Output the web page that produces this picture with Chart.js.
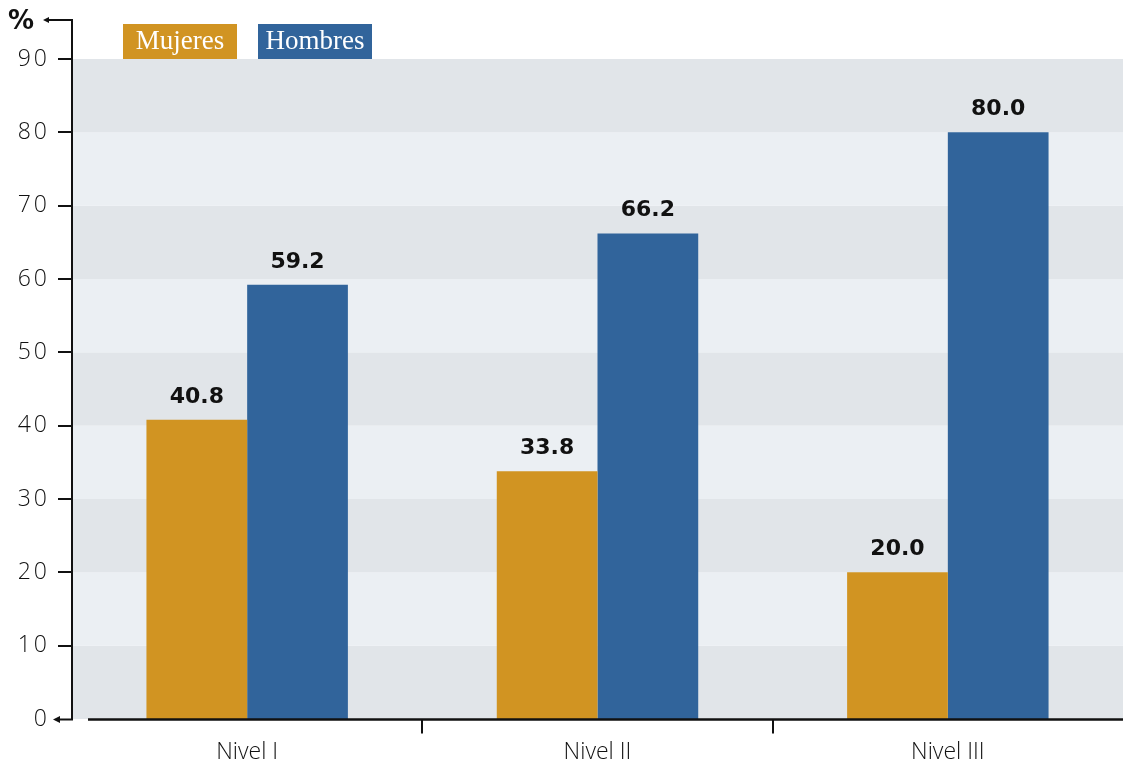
<!DOCTYPE html>
<html>
<head>
<meta charset="utf-8">
<script src="https://cdn.jsdelivr.net/npm/chart.js@4/dist/chart.umd.min.js"></script>
<style>
html,body{margin:0;padding:0;background:#fff;}
canvas{display:block;}
</style>
</head>
<body>
<canvas id="c" width="1123" height="763"></canvas>
<script>
// ---- data ----
const categories = ['Nivel I', 'Nivel II', 'Nivel III'];
const mujeres = [40.8, 33.8, 20.0];
const hombres = [59.2, 66.2, 80.0];
const seriesNames = ['Mujeres', 'Hombres'];
const yMin = 0;
const yMax = 90;
const yStep = 10;
const unitLabel = '%';

// ---- styles ----
const COL_M = '#d19422';
const COL_H = '#31649b';
const BAND_DARK = '#e1e5e9';
const BAND_LIGHT = '#ebeff3';
const AXIS = '#111111';

class SpacedLinear extends Chart.LinearScale {
  drawLabels(area) {
    const ctx = this.ctx;
    ctx.save();
    ctx.letterSpacing = '3px';
    super.drawLabels(area);
    ctx.restore();
  }
}
SpacedLinear.id = 'spacedLinear';
SpacedLinear.defaults = Chart.LinearScale.defaults;
Chart.register(SpacedLinear);

const decor = {
  id: 'decor',
  beforeDraw(chart) {
    const ctx = chart.ctx, a = chart.chartArea, y = chart.scales.y;
    ctx.save();
    ctx.fillStyle = '#fff';
    ctx.fillRect(0, 0, chart.width, chart.height);
    let i = 0;
    for (let v = yMin; v < yMax; v += yStep, i++) {
      const y0 = y.getPixelForValue(v), y1 = y.getPixelForValue(v + yStep);
      ctx.fillStyle = i % 2 === 0 ? BAND_DARK : BAND_LIGHT;
      ctx.fillRect(a.left, y1, a.right - a.left, y0 - y1);
    }
    ctx.restore();
  },
  afterDraw(chart) {
    const ctx = chart.ctx, a = chart.chartArea, ys = chart.scales.y, xs = chart.scales.x;
    ctx.save();
    ctx.strokeStyle = AXIS;
    ctx.fillStyle = AXIS;
    ctx.lineWidth = 2;
    const ax = a.left;
    const topY = 20;
    // vertical axis
    ctx.beginPath();
    ctx.moveTo(ax, topY - 1);
    ctx.lineTo(ax, a.bottom + 1);
    ctx.stroke();
    // top tick with arrow
    ctx.beginPath();
    ctx.moveTo(ax + 1, topY);
    ctx.lineTo(48, topY);
    ctx.stroke();
    ctx.beginPath();
    ctx.moveTo(43, topY);
    ctx.lineTo(49, topY - 3);
    ctx.lineTo(49, topY + 3);
    ctx.closePath();
    ctx.fill();
    // y ticks
    for (let v = yMin + yStep; v <= yMax; v += yStep) {
      const py = Math.round(ys.getPixelForValue(v));
      ctx.beginPath();
      ctx.moveTo(ax - 14, py);
      ctx.lineTo(ax, py);
      ctx.stroke();
    }
    // zero arrow
    const zy = Math.round(ys.getPixelForValue(yMin)) + 0.5;
    ctx.beginPath();
    ctx.moveTo(ax + 1, zy);
    ctx.lineTo(57, zy);
    ctx.stroke();
    ctx.beginPath();
    ctx.moveTo(53, zy);
    ctx.lineTo(60, zy - 3.5);
    ctx.lineTo(60, zy + 3.5);
    ctx.closePath();
    ctx.fill();
    // x axis line
    ctx.lineWidth = 2.5;
    ctx.beginPath();
    ctx.moveTo(ax + 16, zy);
    ctx.lineTo(a.right, zy);
    ctx.stroke();
    // category boundary ticks
    ctx.lineWidth = 2;
    for (let i = 0; i < categories.length - 1; i++) {
      const bx = Math.round((xs.getPixelForValue(i) + xs.getPixelForValue(i + 1)) / 2);
      ctx.beginPath();
      ctx.moveTo(bx, zy);
      ctx.lineTo(bx, zy + 14);
      ctx.stroke();
    }
    // value labels
    ctx.font = 'bold 22px "DejaVu Sans", sans-serif';
    ctx.textAlign = 'center';
    ctx.textBaseline = 'middle';
    ctx.fillStyle = '#111';
    chart.data.datasets.forEach((ds, di) => {
      const meta = chart.getDatasetMeta(di);
      meta.data.forEach((bar, j) => {
        ctx.fillText(ds.data[j].toFixed(1), bar.x, bar.y - 23);
      });
    });
    // unit label
    ctx.font = 'bold 26px "DejaVu Sans", sans-serif';
    ctx.fillText(unitLabel, 21, 22);
    // legend boxes
    const boxes = [
      {x: 123, c: COL_M, t: seriesNames[0]},
      {x: 258, c: COL_H, t: seriesNames[1]}
    ];
    ctx.font = '27px "Liberation Serif", serif';
    boxes.forEach(b => {
      ctx.fillStyle = b.c;
      ctx.fillRect(b.x, 24, 114, 35);
      ctx.fillStyle = '#fff';
      ctx.fillText(b.t, b.x + 57, 42);
    });
    ctx.restore();
  }
};

new Chart(document.getElementById('c'), {
  type: 'bar',
  data: {
    labels: categories,
    datasets: [
      {label: seriesNames[0], data: mujeres, backgroundColor: COL_M, borderWidth: 0},
      {label: seriesNames[1], data: hombres, backgroundColor: COL_H, borderWidth: 0}
    ]
  },
  options: {
    responsive: false,
    animation: false,
    devicePixelRatio: 1,
    layout: {padding: {top: 59, left: 0, right: 0, bottom: 0}},
    datasets: {bar: {categoryPercentage: 0.575, barPercentage: 1.0}},
    plugins: {legend: {display: false}, tooltip: {enabled: false}},
    scales: {
      x: {
        type: 'category',
        offset: true,
        grid: {display: false, drawTicks: false},
        border: {display: false},
        ticks: {color: '#111', padding: 20, font: {family: '"Open Sans", sans-serif', size: 23, weight: 300}},
        afterFit(s) { s.height = 44; }
      },
      y: {
        type: 'spacedLinear',
        min: yMin,
        max: yMax,
        grid: {display: false, drawTicks: false},
        border: {display: false},
        ticks: {stepSize: yStep, autoSkip: false, color: '#111', padding: 22, font: {family: '"Open Sans", sans-serif', size: 23, weight: 300}},
        afterFit(s) { s.width = 72; }
      }
    }
  },
  plugins: [decor]
});
</script>
</body>
</html>
